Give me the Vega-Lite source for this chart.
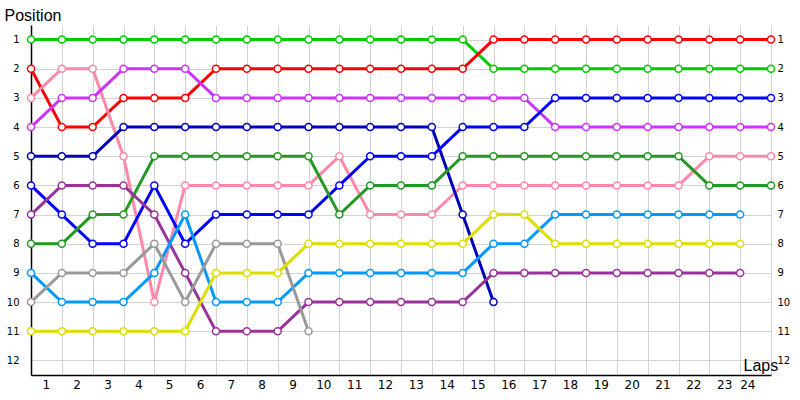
{
  "$schema": "https://vega.github.io/schema/vega-lite/v6.json",
  "autosize": "none",
  "width": 740,
  "height": 350,
  "padding": {"left": 31, "top": 25, "right": 29, "bottom": 25},
  "background": "white",
  "config": {"view": {"stroke": null}},
  "datasets": {
    "laps": [
      {"car": "A", "lap": 0, "pos": 1}, {"car": "A", "lap": 1, "pos": 1}, {"car": "A", "lap": 2, "pos": 1}, {"car": "A", "lap": 3, "pos": 1}, {"car": "A", "lap": 4, "pos": 1}, {"car": "A", "lap": 5, "pos": 1}, {"car": "A", "lap": 6, "pos": 1}, {"car": "A", "lap": 7, "pos": 1}, {"car": "A", "lap": 8, "pos": 1}, {"car": "A", "lap": 9, "pos": 1}, {"car": "A", "lap": 10, "pos": 1}, {"car": "A", "lap": 11, "pos": 1}, {"car": "A", "lap": 12, "pos": 1}, {"car": "A", "lap": 13, "pos": 1}, {"car": "A", "lap": 14, "pos": 1}, {"car": "A", "lap": 15, "pos": 2}, {"car": "A", "lap": 16, "pos": 2}, {"car": "A", "lap": 17, "pos": 2}, {"car": "A", "lap": 18, "pos": 2}, {"car": "A", "lap": 19, "pos": 2}, {"car": "A", "lap": 20, "pos": 2}, {"car": "A", "lap": 21, "pos": 2}, {"car": "A", "lap": 22, "pos": 2}, {"car": "A", "lap": 23, "pos": 2}, {"car": "A", "lap": 24, "pos": 2},
      {"car": "B", "lap": 0, "pos": 2}, {"car": "B", "lap": 1, "pos": 4}, {"car": "B", "lap": 2, "pos": 4}, {"car": "B", "lap": 3, "pos": 3}, {"car": "B", "lap": 4, "pos": 3}, {"car": "B", "lap": 5, "pos": 3}, {"car": "B", "lap": 6, "pos": 2}, {"car": "B", "lap": 7, "pos": 2}, {"car": "B", "lap": 8, "pos": 2}, {"car": "B", "lap": 9, "pos": 2}, {"car": "B", "lap": 10, "pos": 2}, {"car": "B", "lap": 11, "pos": 2}, {"car": "B", "lap": 12, "pos": 2}, {"car": "B", "lap": 13, "pos": 2}, {"car": "B", "lap": 14, "pos": 2}, {"car": "B", "lap": 15, "pos": 1}, {"car": "B", "lap": 16, "pos": 1}, {"car": "B", "lap": 17, "pos": 1}, {"car": "B", "lap": 18, "pos": 1}, {"car": "B", "lap": 19, "pos": 1}, {"car": "B", "lap": 20, "pos": 1}, {"car": "B", "lap": 21, "pos": 1}, {"car": "B", "lap": 22, "pos": 1}, {"car": "B", "lap": 23, "pos": 1}, {"car": "B", "lap": 24, "pos": 1},
      {"car": "C", "lap": 0, "pos": 3}, {"car": "C", "lap": 1, "pos": 2}, {"car": "C", "lap": 2, "pos": 2}, {"car": "C", "lap": 3, "pos": 5}, {"car": "C", "lap": 4, "pos": 10}, {"car": "C", "lap": 5, "pos": 6}, {"car": "C", "lap": 6, "pos": 6}, {"car": "C", "lap": 7, "pos": 6}, {"car": "C", "lap": 8, "pos": 6}, {"car": "C", "lap": 9, "pos": 6}, {"car": "C", "lap": 10, "pos": 5}, {"car": "C", "lap": 11, "pos": 7}, {"car": "C", "lap": 12, "pos": 7}, {"car": "C", "lap": 13, "pos": 7}, {"car": "C", "lap": 14, "pos": 6}, {"car": "C", "lap": 15, "pos": 6}, {"car": "C", "lap": 16, "pos": 6}, {"car": "C", "lap": 17, "pos": 6}, {"car": "C", "lap": 18, "pos": 6}, {"car": "C", "lap": 19, "pos": 6}, {"car": "C", "lap": 20, "pos": 6}, {"car": "C", "lap": 21, "pos": 6}, {"car": "C", "lap": 22, "pos": 5}, {"car": "C", "lap": 23, "pos": 5}, {"car": "C", "lap": 24, "pos": 5},
      {"car": "D", "lap": 0, "pos": 4}, {"car": "D", "lap": 1, "pos": 3}, {"car": "D", "lap": 2, "pos": 3}, {"car": "D", "lap": 3, "pos": 2}, {"car": "D", "lap": 4, "pos": 2}, {"car": "D", "lap": 5, "pos": 2}, {"car": "D", "lap": 6, "pos": 3}, {"car": "D", "lap": 7, "pos": 3}, {"car": "D", "lap": 8, "pos": 3}, {"car": "D", "lap": 9, "pos": 3}, {"car": "D", "lap": 10, "pos": 3}, {"car": "D", "lap": 11, "pos": 3}, {"car": "D", "lap": 12, "pos": 3}, {"car": "D", "lap": 13, "pos": 3}, {"car": "D", "lap": 14, "pos": 3}, {"car": "D", "lap": 15, "pos": 3}, {"car": "D", "lap": 16, "pos": 3}, {"car": "D", "lap": 17, "pos": 4}, {"car": "D", "lap": 18, "pos": 4}, {"car": "D", "lap": 19, "pos": 4}, {"car": "D", "lap": 20, "pos": 4}, {"car": "D", "lap": 21, "pos": 4}, {"car": "D", "lap": 22, "pos": 4}, {"car": "D", "lap": 23, "pos": 4}, {"car": "D", "lap": 24, "pos": 4},
      {"car": "E", "lap": 0, "pos": 5}, {"car": "E", "lap": 1, "pos": 5}, {"car": "E", "lap": 2, "pos": 5}, {"car": "E", "lap": 3, "pos": 4}, {"car": "E", "lap": 4, "pos": 4}, {"car": "E", "lap": 5, "pos": 4}, {"car": "E", "lap": 6, "pos": 4}, {"car": "E", "lap": 7, "pos": 4}, {"car": "E", "lap": 8, "pos": 4}, {"car": "E", "lap": 9, "pos": 4}, {"car": "E", "lap": 10, "pos": 4}, {"car": "E", "lap": 11, "pos": 4}, {"car": "E", "lap": 12, "pos": 4}, {"car": "E", "lap": 13, "pos": 4}, {"car": "E", "lap": 14, "pos": 7}, {"car": "E", "lap": 15, "pos": 10},
      {"car": "F", "lap": 0, "pos": 6}, {"car": "F", "lap": 1, "pos": 7}, {"car": "F", "lap": 2, "pos": 8}, {"car": "F", "lap": 3, "pos": 8}, {"car": "F", "lap": 4, "pos": 6}, {"car": "F", "lap": 5, "pos": 8}, {"car": "F", "lap": 6, "pos": 7}, {"car": "F", "lap": 7, "pos": 7}, {"car": "F", "lap": 8, "pos": 7}, {"car": "F", "lap": 9, "pos": 7}, {"car": "F", "lap": 10, "pos": 6}, {"car": "F", "lap": 11, "pos": 5}, {"car": "F", "lap": 12, "pos": 5}, {"car": "F", "lap": 13, "pos": 5}, {"car": "F", "lap": 14, "pos": 4}, {"car": "F", "lap": 15, "pos": 4}, {"car": "F", "lap": 16, "pos": 4}, {"car": "F", "lap": 17, "pos": 3}, {"car": "F", "lap": 18, "pos": 3}, {"car": "F", "lap": 19, "pos": 3}, {"car": "F", "lap": 20, "pos": 3}, {"car": "F", "lap": 21, "pos": 3}, {"car": "F", "lap": 22, "pos": 3}, {"car": "F", "lap": 23, "pos": 3}, {"car": "F", "lap": 24, "pos": 3},
      {"car": "G", "lap": 0, "pos": 8}, {"car": "G", "lap": 1, "pos": 8}, {"car": "G", "lap": 2, "pos": 7}, {"car": "G", "lap": 3, "pos": 7}, {"car": "G", "lap": 4, "pos": 5}, {"car": "G", "lap": 5, "pos": 5}, {"car": "G", "lap": 6, "pos": 5}, {"car": "G", "lap": 7, "pos": 5}, {"car": "G", "lap": 8, "pos": 5}, {"car": "G", "lap": 9, "pos": 5}, {"car": "G", "lap": 10, "pos": 7}, {"car": "G", "lap": 11, "pos": 6}, {"car": "G", "lap": 12, "pos": 6}, {"car": "G", "lap": 13, "pos": 6}, {"car": "G", "lap": 14, "pos": 5}, {"car": "G", "lap": 15, "pos": 5}, {"car": "G", "lap": 16, "pos": 5}, {"car": "G", "lap": 17, "pos": 5}, {"car": "G", "lap": 18, "pos": 5}, {"car": "G", "lap": 19, "pos": 5}, {"car": "G", "lap": 20, "pos": 5}, {"car": "G", "lap": 21, "pos": 5}, {"car": "G", "lap": 22, "pos": 6}, {"car": "G", "lap": 23, "pos": 6}, {"car": "G", "lap": 24, "pos": 6},
      {"car": "H", "lap": 0, "pos": 7}, {"car": "H", "lap": 1, "pos": 6}, {"car": "H", "lap": 2, "pos": 6}, {"car": "H", "lap": 3, "pos": 6}, {"car": "H", "lap": 4, "pos": 7}, {"car": "H", "lap": 5, "pos": 9}, {"car": "H", "lap": 6, "pos": 11}, {"car": "H", "lap": 7, "pos": 11}, {"car": "H", "lap": 8, "pos": 11}, {"car": "H", "lap": 9, "pos": 10}, {"car": "H", "lap": 10, "pos": 10}, {"car": "H", "lap": 11, "pos": 10}, {"car": "H", "lap": 12, "pos": 10}, {"car": "H", "lap": 13, "pos": 10}, {"car": "H", "lap": 14, "pos": 10}, {"car": "H", "lap": 15, "pos": 9}, {"car": "H", "lap": 16, "pos": 9}, {"car": "H", "lap": 17, "pos": 9}, {"car": "H", "lap": 18, "pos": 9}, {"car": "H", "lap": 19, "pos": 9}, {"car": "H", "lap": 20, "pos": 9}, {"car": "H", "lap": 21, "pos": 9}, {"car": "H", "lap": 22, "pos": 9}, {"car": "H", "lap": 23, "pos": 9},
      {"car": "I", "lap": 0, "pos": 9}, {"car": "I", "lap": 1, "pos": 10}, {"car": "I", "lap": 2, "pos": 10}, {"car": "I", "lap": 3, "pos": 10}, {"car": "I", "lap": 4, "pos": 9}, {"car": "I", "lap": 5, "pos": 7}, {"car": "I", "lap": 6, "pos": 10}, {"car": "I", "lap": 7, "pos": 10}, {"car": "I", "lap": 8, "pos": 10}, {"car": "I", "lap": 9, "pos": 9}, {"car": "I", "lap": 10, "pos": 9}, {"car": "I", "lap": 11, "pos": 9}, {"car": "I", "lap": 12, "pos": 9}, {"car": "I", "lap": 13, "pos": 9}, {"car": "I", "lap": 14, "pos": 9}, {"car": "I", "lap": 15, "pos": 8}, {"car": "I", "lap": 16, "pos": 8}, {"car": "I", "lap": 17, "pos": 7}, {"car": "I", "lap": 18, "pos": 7}, {"car": "I", "lap": 19, "pos": 7}, {"car": "I", "lap": 20, "pos": 7}, {"car": "I", "lap": 21, "pos": 7}, {"car": "I", "lap": 22, "pos": 7}, {"car": "I", "lap": 23, "pos": 7},
      {"car": "J", "lap": 0, "pos": 10}, {"car": "J", "lap": 1, "pos": 9}, {"car": "J", "lap": 2, "pos": 9}, {"car": "J", "lap": 3, "pos": 9}, {"car": "J", "lap": 4, "pos": 8}, {"car": "J", "lap": 5, "pos": 10}, {"car": "J", "lap": 6, "pos": 8}, {"car": "J", "lap": 7, "pos": 8}, {"car": "J", "lap": 8, "pos": 8}, {"car": "J", "lap": 9, "pos": 11},
      {"car": "K", "lap": 0, "pos": 11}, {"car": "K", "lap": 1, "pos": 11}, {"car": "K", "lap": 2, "pos": 11}, {"car": "K", "lap": 3, "pos": 11}, {"car": "K", "lap": 4, "pos": 11}, {"car": "K", "lap": 5, "pos": 11}, {"car": "K", "lap": 6, "pos": 9}, {"car": "K", "lap": 7, "pos": 9}, {"car": "K", "lap": 8, "pos": 9}, {"car": "K", "lap": 9, "pos": 8}, {"car": "K", "lap": 10, "pos": 8}, {"car": "K", "lap": 11, "pos": 8}, {"car": "K", "lap": 12, "pos": 8}, {"car": "K", "lap": 13, "pos": 8}, {"car": "K", "lap": 14, "pos": 8}, {"car": "K", "lap": 15, "pos": 7}, {"car": "K", "lap": 16, "pos": 7}, {"car": "K", "lap": 17, "pos": 8}, {"car": "K", "lap": 18, "pos": 8}, {"car": "K", "lap": 19, "pos": 8}, {"car": "K", "lap": 20, "pos": 8}, {"car": "K", "lap": 21, "pos": 8}, {"car": "K", "lap": 22, "pos": 8}, {"car": "K", "lap": 23, "pos": 8}
    ]
  },
  "data": {"name": "laps"},
  "encoding": {
    "x": {
      "field": "lap", "type": "quantitative",
      "scale": {"domain": [0, 24], "nice": false, "zero": false},
      "axis": {
        "values": [1,2,3,4,5,6,7,8,9,10,11,12,13,14,15,16,17,18,19,20,21,22,23,24],
        "title": "Laps", "titleFont": "Liberation Sans", "titleFontSize": 16, "titleFontWeight": "normal", "titleColor": "#000000",
        "titleAlign": "left", "titleBaseline": "alphabetic", "titleX": 712, "titleY": -5, "titleAnchor": null,
        "labelOffset": -16, "labelFont": "DejaVu Sans", "labelFontSize": 12, "labelColor": "#000000", "labelPadding": 4,
        "ticks": false, "domainColor": "#000000", "domainWidth": 1.5,
        "grid": true, "gridColor": "#d3d3d3", "gridWidth": 1
      }
    },
    "y": {
      "field": "pos", "type": "quantitative",
      "scale": {"domain": [0.5, 12.5], "nice": false, "zero": false, "reverse": true}
    }
  },
  "layer": [
    {
      "mark": {"type": "line", "strokeWidth": 3},
      "encoding": {
        "y": {
          "field": "pos", "type": "quantitative",
          "axis": {
            "orient": "left",
            "values": [1,2,3,4,5,6,7,8,9,10,11,12],
            "title": "Position", "titleFont": "Liberation Sans", "titleFontSize": 16, "titleFontWeight": "normal", "titleColor": "#000000",
            "titleAngle": 0, "titleAlign": "left", "titleBaseline": "alphabetic", "titleX": -27, "titleY": -5,
            "labelFont": "DejaVu Sans", "labelFontSize": 10, "labelColor": "#000000", "labelPadding": 12,
            "ticks": false, "domainColor": "#000000", "domainWidth": 1.5,
            "grid": true, "gridColor": "#d3d3d3", "gridWidth": 1
          }
        },
        "color": {
          "field": "car", "type": "nominal", "legend": null,
          "scale": {
            "domain": ["A","B","C","D","E","F","G","H","I","J","K"],
            "range": ["#00cc00","#ff0000","#ff88aa","#cc33ff","#0000bb","#0000ff","#229922","#993399","#0099ff","#999999","#dddd00"]
          }
        }
      }
    },
    {
      "mark": {"type": "point", "filled": true, "fill": "#ffffff", "size": 50, "strokeWidth": 1.5, "opacity": 1},
      "encoding": {
        "y": {
          "field": "pos", "type": "quantitative",
          "axis": {
            "orient": "right",
            "values": [1,2,3,4,5,6,7,8,9,10,11,12],
            "title": null,
            "labelFont": "DejaVu Sans", "labelFontSize": 10, "labelColor": "#000000", "labelPadding": 6,
            "ticks": false, "domain": false, "grid": false
          }
        },
        "stroke": {
          "field": "car", "type": "nominal", "legend": null,
          "scale": {
            "domain": ["A","B","C","D","E","F","G","H","I","J","K"],
            "range": ["#00cc00","#ff0000","#ff88aa","#cc33ff","#0000bb","#0000ff","#229922","#993399","#0099ff","#999999","#dddd00"]
          }
        }
      }
    }
  ],
  "resolve": {"axis": {"y": "independent"}}
}
